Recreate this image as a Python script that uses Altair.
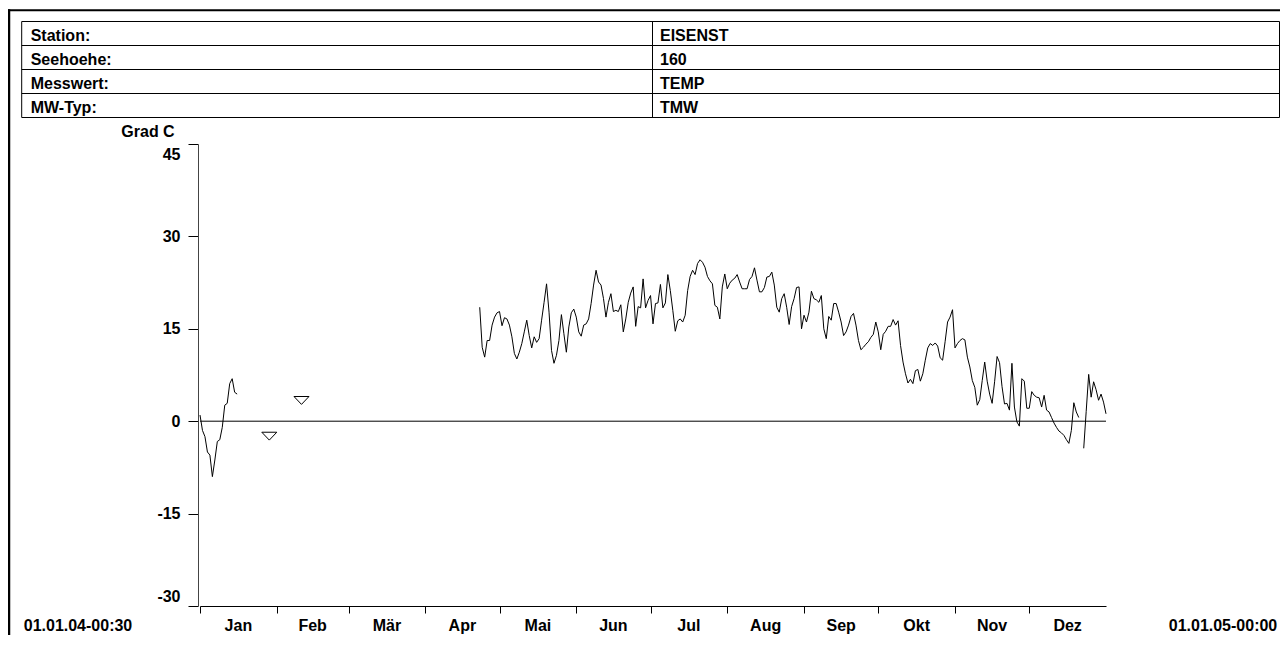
import altair as alt
import pandas as pd

# ---------------- data ----------------
station_labels = ["Station:", "Seehoehe:", "Messwert:", "MW-Typ:"]
station_values = ["EISENST", "160", "TEMP", "TMW"]
y_ticks = [-30, -15, 0, 15, 30, 45]
month_names = ["Jan", "Feb", "Mär", "Apr", "Mai", "Jun", "Jul", "Aug", "Sep", "Okt", "Nov", "Dez"]
month_starts = ["2004-01-01", "2004-02-01", "2004-03-01", "2004-04-01", "2004-05-01", "2004-06-01",
                "2004-07-01", "2004-08-01", "2004-09-01", "2004-10-01", "2004-11-01", "2004-12-01"]
period_end = "2005-01-01"
period_labels = ["01.01.04-00:30", "01.01.05-00:00"]
unit_label = "Grad C"

jan_start = "2004-01-01"
jan_temps = [1.0, -1.5, -2.5, -5.0, -5.5, -9.0, -6.3, -3.3, -3.0, -1.0, 2.6, 2.9, 6.1, 6.9, 4.7, 4.4]

single_dates = ["2004-01-29", "2004-02-11"]
single_temps = [-2.4, 3.4]

main_start = "2004-04-23"
main_temps = [
    18.5, 12.0, 10.4, 13.1, 13.1, 15.6, 16.9, 17.6, 17.8, 15.5,
    16.8, 16.6, 15.6, 13.7, 11.0, 10.1, 11.2, 12.6, 14.5, 16.4,
    13.9, 11.9, 13.7, 12.8, 13.4, 16.4, 19.3, 22.3, 17.7, 11.5,
    9.4, 10.7, 13.1, 17.3, 14.2, 11.2, 15.3, 17.6, 18.2, 16.9,
    14.5, 13.8, 15.6, 15.8, 16.6, 19.1, 22.1, 24.5, 22.6, 22.1,
    19.9, 16.9, 19.3, 20.7, 17.8, 18.0, 17.8, 18.9, 14.5, 16.6, 19.3,
    20.8, 21.8, 15.4, 18.6, 18.4, 23.1, 18.4, 19.6, 20.4,
    15.8, 19.1, 19.2, 22.2, 18.4, 19.2, 23.8, 21.2, 18.0, 14.6,
    16.3, 16.6, 16.1, 17.2, 21.2, 23.5, 24.5, 23.8, 25.6, 26.2,
    25.8, 25.0, 23.5, 22.8, 22.3, 18.8, 18.5, 16.6, 21.8, 23.9,
    21.5, 22.4, 22.9, 23.2, 23.8, 22.6, 21.5, 21.5, 21.5, 23.0,
    23.5, 24.9, 22.9, 21.0, 21.0, 21.7, 23.4, 23.5, 24.2, 22.1,
    18.5, 17.7, 19.9,
    20.7, 18.5, 15.7, 18.6, 19.9, 21.7, 21.8,
    15.0, 17.2, 16.1, 17.7, 21.1, 19.9, 19.7, 19.3, 20.4, 15.0,
    13.4, 17.0, 16.4, 19.1, 19.1, 17.7, 16.1, 13.9, 14.5, 15.6,
    17.0, 17.5, 15.6, 13.1, 11.6, 12.0, 12.5, 12.9, 13.6, 14.1,
    16.1, 14.5, 11.6, 14.1, 14.6, 15.4, 15.4, 16.5, 15.6, 16.3,
    12.3, 9.6, 7.7, 6.2, 6.8, 6.1, 8.2, 8.4, 6.5, 7.7,
    9.9, 11.9, 12.6, 12.3, 12.7, 12.2, 10.3,
    9.9, 12.9, 16.1,
    16.9, 18.1, 11.9, 12.6, 13.1, 13.4, 13.2, 10.4, 8.8, 6.6,
    5.5, 2.6, 3.5, 6.6, 9.6, 6.5, 4.4, 2.9, 6.4, 10.5,
    9.5, 5.6, 2.8, 2.9, 1.8, 9.4, 2.3, -0.1, -0.8, 6.9,
    6.5, 2.1, 2.1, 4.8, 4.2, 3.9, 3.8, 2.3, 4.2, 1.8,
    1.5, 0.6, -0.3, -1.0, -1.6, -1.9, -2.3, -3.0, -3.6, -1.5,
    3.0, 1.5, 0.6,
    None, -4.4, 1.6, 7.6, 3.9, 6.4, 5.1, 3.4, 4.4, 3.1, 1.2,
]

# ---------------- tables built from the arrays ----------------
def segments(start, temps, seg0):
    dates = pd.date_range(start, periods=len(temps), freq="D")
    rows, seg = [], seg0
    for d, t in zip(dates, temps):
        if t is None:
            seg += 1
            continue
        rows.append({"date": d.strftime("%Y-%m-%d"), "temp": t, "seg": seg})
    return rows, seg + 1

rows1, nxt = segments(jan_start, jan_temps, 0)
rows2, _ = segments(main_start, main_temps, nxt)
line_df = pd.DataFrame(rows1 + rows2)
single_df = pd.DataFrame({"date": single_dates, "temp": single_temps})

bounds = [pd.Timestamp(m) for m in month_starts] + [pd.Timestamp(period_end)]
month_df = pd.DataFrame({
    "date": [(a + (b - a) / 2).strftime("%Y-%m-%dT%H:%M:%SZ") for a, b in zip(bounds[:-1], bounds[1:])],
    "label": month_names,
})

def dt(ts):
    t = pd.Timestamp(ts)
    return alt.DateTime(year=t.year, month=t.month, date=t.day, utc=True)

x_scale = alt.Scale(type="utc", domain=[dt(jan_start), dt(period_end)])
y_scale = alt.Scale(domain=[-30, 45], nice=False, zero=False)

FONT = "Liberation Sans"
FS = 16
W, H = 906, 462

# ---------------- data layers ----------------
line = alt.Chart(line_df).mark_line(color="black", strokeWidth=1).encode(
    x=alt.X("date:T", scale=x_scale, title=None,
            axis=alt.Axis(values=[dt(m) for m in month_starts], labels=False, tickSize=7,
                          domainColor="black", tickColor="black", grid=False)),
    y=alt.Y("temp:Q", scale=y_scale, title=None,
            axis=alt.Axis(values=y_ticks, labelFlush=True, labelFlushOffset=-2,
                          tickSize=10, labelPadding=8, offset=2,
                          labelExpr="'' + datum.value",
                          domainColor="#444", tickColor="black", grid=False)),
    detail="seg:N",
)

tri = alt.Chart(single_df).mark_point(
    shape="M-1,-0.5L1,-0.5L0,0.55Z", size=225, filled=True, fill="white",
    stroke="black", strokeWidth=1, opacity=1,
).encode(
    x=alt.X("date:T", scale=x_scale),
    y=alt.Y("temp:Q", scale=y_scale),
)

zero = alt.Chart(pd.DataFrame({"temp": [0]})).mark_rule(color="black", strokeWidth=1).encode(
    y=alt.Y("temp:Q", scale=y_scale)
)

months = alt.Chart(month_df).mark_text(
    font=FONT, fontSize=FS, fontWeight="bold", color="black", baseline="alphabetic", align="center"
).encode(
    x=alt.X("date:T", scale=x_scale),
    y=alt.value(486.7),
    text="label:N",
)

# ---------------- frame, header table and free labels (layout, in px) ----------------
tl, tr, tt, tb, tdiv = -178.3, 1079.5, -122.5, -26.5, 452.5
row_lines = [-98.5, -74.5, -50.5]
frame_rows = [
    # outer frame
    {"x": -192, "x2": 1082, "y": -133.7, "y2": -133.7, "w": 2},
    {"x": -191.0, "x2": -191.0, "y": -134.7, "y2": 495, "w": 2.5},
    # header table
    {"x": tl, "x2": tr, "y": tt, "y2": tt, "w": 1},
    {"x": tl, "x2": tr, "y": tb, "y2": tb, "w": 1},
    {"x": tl, "x2": tl, "y": tt, "y2": tb, "w": 1},
    {"x": tr, "x2": tr, "y": tt, "y2": tb, "w": 1},
    {"x": tdiv, "x2": tdiv, "y": tt, "y2": tb, "w": 1},
] + [{"x": tl, "x2": tr, "y": r, "y2": r, "w": 1} for r in row_lines]
frame_df = pd.DataFrame(frame_rows)

frame = alt.Chart(frame_df).mark_rule(color="black").encode(
    x=alt.X("x:Q", scale=None, axis=None),
    x2="x2:Q",
    y=alt.Y("y:Q", scale=None, axis=None),
    y2="y2:Q",
    strokeWidth=alt.StrokeWidth("w:Q", scale=None, legend=None),
)

baselines = [-103.3, -79.0, -54.7, -30.7]
left_df = pd.DataFrame(
    [{"px": -169.3, "py": b, "label": s} for b, s in zip(baselines, station_labels)]
    + [{"px": 460.0, "py": b, "label": s} for b, s in zip(baselines, station_values)]
)
center_df = pd.DataFrame([
    {"px": -52.0, "py": -6.7, "label": unit_label},
    {"px": -122.0, "py": 486.7, "label": period_labels[0]},
    {"px": 1023.0, "py": 486.7, "label": period_labels[1]},
])

left_text = alt.Chart(left_df).mark_text(
    font=FONT, fontSize=FS, fontWeight="bold", color="black", align="left", baseline="alphabetic"
).encode(
    x=alt.X("px:Q", scale=None, axis=None),
    y=alt.Y("py:Q", scale=None, axis=None),
    text="label:N",
)
center_text = alt.Chart(center_df).mark_text(
    font=FONT, fontSize=FS, fontWeight="bold", color="black", align="center", baseline="alphabetic"
).encode(
    x=alt.X("px:Q", scale=None, axis=None),
    y=alt.Y("py:Q", scale=None, axis=None),
    text="label:N",
)

chart = alt.layer(zero, line, tri, months, frame, left_text, center_text).properties(
    width=W, height=H,
    padding={"left": 192, "top": 136, "right": 174, "bottom": 29},
    autosize=alt.AutoSizeParams(type="none"),
    background="white",
).configure_view(stroke=None).configure_axis(
    labelFont=FONT, labelFontSize=FS, labelFontWeight="bold", labelColor="black",
)

chart.save("out.html", embed_options={"renderer": "svg", "actions": False})
